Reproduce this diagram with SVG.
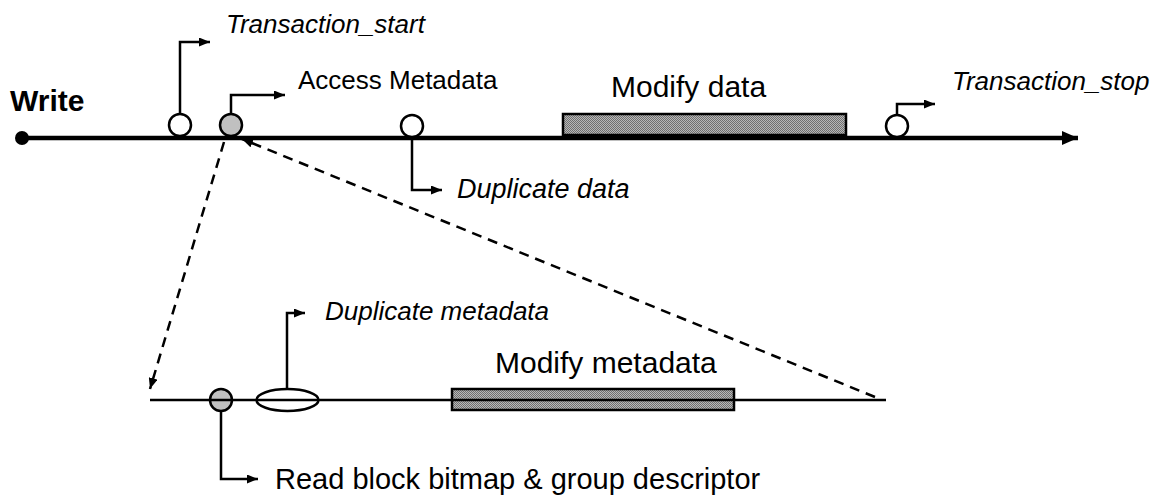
<svg xmlns="http://www.w3.org/2000/svg" width="1163" height="496" viewBox="0 0 1163 496">
<defs>
<pattern id="dots" width="2" height="2" patternUnits="userSpaceOnUse">
<rect width="2" height="2" fill="#b8b8b8"/>
<rect width="1" height="1" fill="#707070"/>
<rect x="1" y="1" width="1" height="1" fill="#707070"/>
</pattern>
<marker id="ah" viewBox="0 0 11 9" refX="11" refY="4.5" markerWidth="11" markerHeight="9" markerUnits="userSpaceOnUse" orient="auto">
<path d="M0,0 L11,4.5 L0,9 Z" fill="#000"/>
</marker>
<marker id="bigah" viewBox="0 0 16 14" refX="16" refY="7" markerWidth="16" markerHeight="14" markerUnits="userSpaceOnUse" orient="auto">
<path d="M0,0 L16,7 L0,14 Z" fill="#000"/>
</marker>
</defs>
<style>
text{font-family:"Liberation Sans",Arial,sans-serif;fill:#000}
.it{font-style:italic}
.lead{fill:none;stroke:#000;stroke-width:2.5;marker-end:url(#ah)}
.ev{fill:#fff;stroke:#000;stroke-width:2.5}
.evg{fill:#c0c0c0;stroke:#000;stroke-width:2.5}
.bar{fill:url(#dots);stroke:#000;stroke-width:2.5}
.dash{fill:none;stroke:#000;stroke-width:2.5;stroke-dasharray:10 7;marker-end:url(#ah)}
</style>
<g id="timeline-main">
<line x1="22" y1="138" x2="1078" y2="138" stroke="#000" stroke-width="4.5" marker-end="url(#bigah)"/>
<circle cx="22" cy="138" r="7" fill="#000"/>
<text x="10" y="111" font-size="30" font-weight="bold">Write</text>
</g>
<g id="transaction-start">
<circle class="ev" cx="180" cy="125" r="11"/>
<text class="it" x="226" y="33" font-size="26">Transaction_start</text>
</g>
<g id="access-metadata">
<circle class="evg" cx="231" cy="125" r="11"/>
<text x="298" y="89" font-size="26">Access Metadata</text>
</g>
<g id="duplicate-data">
<circle class="ev" cx="412" cy="126" r="11"/>
<text class="it" x="457" y="198" font-size="27">Duplicate data</text>
</g>
<g id="modify-data">
<rect class="bar" x="563" y="114" width="283" height="21"/>
<text x="611" y="97" font-size="30">Modify data</text>
</g>
<g id="transaction-stop">
<circle class="ev" cx="897" cy="126" r="11"/>
<text class="it" x="952" y="90" font-size="26">Transaction_stop</text>
</g>
<g id="read-bitmap">
<circle class="evg" cx="221" cy="400" r="11"/>
<text x="275" y="489" font-size="29">Read block bitmap &amp; group descriptor</text>
</g>
<g id="duplicate-metadata">
<ellipse class="ev" cx="287.5" cy="400" rx="31" ry="11"/>
<text class="it" x="325" y="320" font-size="26">Duplicate metadata</text>
</g>
<g id="modify-metadata">
<rect class="bar" x="452" y="389" width="282" height="21"/>
<text x="495" y="373" font-size="30">Modify metadata</text>
</g>
<g id="timeline-meta">
<line x1="150" y1="400" x2="886" y2="400" stroke="#000" stroke-width="2.5"/>
</g>
<g id="connectors">
<path class="lead" d="M180,114 V42 H210"/>
<path class="lead" d="M231,114 V95 H285"/>
<path class="lead" d="M412,138 V190 H442"/>
<path class="lead" d="M897,115 V104 H935"/>
<path class="lead" d="M287,389 V313 H305"/>
<path class="lead" d="M221,411 V479 H258"/>
<path class="dash" d="M224,142 L150,389"/>
<path class="dash" d="M875,397 L242,139"/>
</g>
</svg>
